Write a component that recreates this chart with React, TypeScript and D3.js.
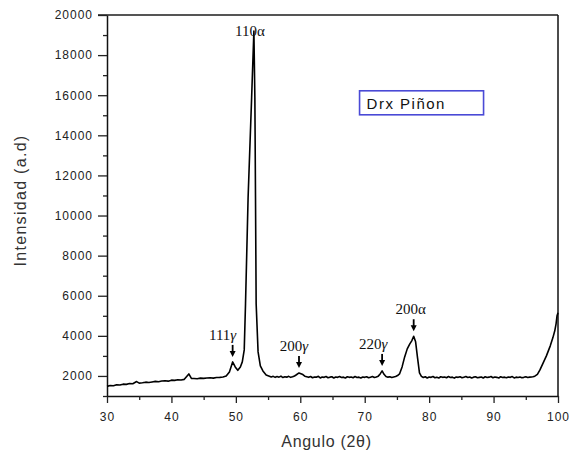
import React, { useEffect, useRef } from 'react';
import * as d3 from 'd3';

const angle = [
  30, 30.5, 31, 31.5, 32, 32.5, 33, 33.5, 34, 34.6, 35, 35.5, 36, 36.5, 37, 37.5, 38, 38.5, 39, 39.5,
  40, 40.5, 41, 41.5, 42, 42.7, 43.1, 43.5, 44, 44.5, 45, 45.5, 46, 46.5, 47, 47.5, 48, 48.5, 49, 49.5,
  49.9, 50.3, 50.7, 51.0, 51.3, 51.5, 51.9, 52.45, 52.8, 52.95, 53.05, 53.15, 53.45, 53.8, 54.2, 54.7,
  55.2, 55.5, 55.8, 56.1, 56.4, 56.7, 57.0, 57.3, 57.6, 57.9, 58.2, 58.5, 58.8, 59.1,
  59.4, 59.8, 60.1, 60.4, 60.7, 61.0,
  61.3, 61.6, 61.9, 62.2, 62.5, 62.8, 63.1, 63.4, 63.7, 64, 64.3, 64.6, 64.9, 65.2, 65.5, 65.8, 66.1, 66.4, 66.7,
  67, 67.3, 67.6, 67.9, 68.2, 68.5, 68.8, 69.1, 69.4, 69.7, 70, 70.3, 70.6, 70.9, 71.2, 71.5, 71.8, 72.1,
  72.4, 72.7, 73.0, 73.3, 73.6, 73.9, 74.2, 74.5, 74.8, 75.1,
  75.4, 75.8, 76.2, 76.6, 77.0, 77.3, 77.6, 77.9, 78.2, 78.5, 78.8,
  79.1, 79.4, 79.7, 80, 80.3, 80.6, 80.9, 81.2, 81.5, 81.8, 82.1, 82.4, 82.7, 83, 83.3, 83.6, 83.9, 84.2, 84.5, 84.8,
  85.1, 85.4, 85.7, 86, 86.3, 86.6, 86.9, 87.2, 87.5, 87.8, 88.1, 88.4, 88.7, 89, 89.3, 89.6, 89.9, 90.2, 90.5, 90.8,
  91.1, 91.4, 91.7, 92, 92.3, 92.6, 92.9, 93.2, 93.5, 93.8, 94.1, 94.4, 94.7, 95, 95.3, 95.6, 95.9,
  96.1, 96.4, 96.8, 97.2, 97.7, 98.2, 98.8, 99.2, 99.5, 99.7, 99.85, 100,
];
const intensity = [
  1480, 1520, 1510, 1560, 1550, 1590, 1580, 1620, 1610, 1720, 1640, 1660, 1690, 1670, 1700, 1730, 1710, 1750, 1760, 1740,
  1790, 1780, 1810, 1800, 1830, 2100, 1880, 1870, 1860, 1890, 1880, 1900, 1910, 1890, 1920, 1930, 1950, 2000, 2200, 2700,
  2450, 2280, 2450, 2700, 3300, 5600, 10900, 15900, 19200, 15900, 10900, 5600, 3200, 2500, 2250, 2050,
  1990, 1950, 1980, 1930, 1970, 1940, 1990, 1920, 1960, 1940, 1980, 1930, 1960, 2000,
  2060, 2150, 2110, 2070, 1990, 1960,
  1930, 1970, 1910, 1950, 1940, 1980, 1900, 1950, 1930, 1970, 1910, 1940, 1960, 1900, 1950, 1930, 1970, 1920, 1940,
  1900, 1960, 1930, 1950, 1910, 1970, 1920, 1940, 1900, 1950, 1930, 1960, 1910, 1940, 1970, 1920, 1950, 1990,
  2100, 2250, 2080, 1970, 1940, 1960, 1920, 1950, 1970, 2020,
  2100, 2450, 2950, 3350, 3600, 3750, 3980, 3700, 2900, 2150, 1980,
  1920, 1960, 1900, 1950, 1930, 1970, 1910, 1940, 1900, 1960, 1930, 1950, 1910, 1970, 1920, 1940, 1890, 1950, 1930, 1960,
  1910, 1940, 1970, 1920, 1950, 1900, 1940, 1960, 1910, 1930, 1950, 1900, 1960, 1920, 1940, 1970, 1910, 1950, 1930, 1900,
  1960, 1920, 1940, 1910, 1950, 1930, 1970, 1900, 1940, 1920, 1950, 1910, 1930, 1960, 1920, 1940, 1950,
  1960, 1990, 2080, 2300, 2650, 3000, 3500, 3900, 4250, 4600, 5000, 5150,
];

const xTicks = [30, 40, 50, 60, 70, 80, 90, 100];
const xMinorTicks = [35, 45, 55, 65, 75, 85, 95];
const yTicks = [2000, 4000, 6000, 8000, 10000, 12000, 14000, 16000, 18000, 20000];
const yMinorTicks = [1000, 3000, 5000, 7000, 9000, 11000, 13000, 15000, 17000, 19000];

// reflection labels (plane, phase) and the angle of the peak they point at
const peakPlanes = ['110', '111', '200', '220', '200'];
const peakPhases = ['α', 'γ', 'γ', 'γ', 'α'];
const peakAngles = [52.8, 49.5, 59.8, 72.7, 77.6];
const peakArrow = [false, true, true, true, true];

const legendText = 'Drx  Piñon';
const xTitle = 'Angulo (2θ)';
const yTitle = 'Intensidad (a.d)';

export default function App() {
  const ref = useRef<SVGSVGElement | null>(null);

  useEffect(() => {
    const svg = d3.select(ref.current);
    svg.selectAll('*').remove();

    const margin = { top: 15, right: 12, bottom: 58, left: 107 };
    const W = 570;
    const H = 454;
    const width = W - margin.left - margin.right;
    const height = H - margin.top - margin.bottom;

    const x = d3.scaleLinear().domain([30, 100]).range([0, width]);
    const y = d3.scaleLinear().domain([1000, 20000]).range([height, 0]);

    const g = svg.append('g').attr('transform', `translate(${margin.left},${margin.top})`);

    // frame
    g.append('line').attr('x1', -9).attr('x2', width).attr('y1', 0).attr('y2', 0)
      .attr('stroke', '#555').attr('stroke-width', 2);
    g.append('line').attr('x1', width).attr('x2', width).attr('y1', 0).attr('y2', height)
      .attr('stroke', '#111').attr('stroke-width', 1.5);

    const tickFont = (sel: any) => sel.selectAll('text')
      .attr('font-family', 'Liberation Sans, Arial, sans-serif')
      .attr('font-size', 12)
      .attr('letter-spacing', 1)
      .attr('fill', '#222');

    // x axis
    const gx = g.append('g').attr('transform', `translate(0,${height})`)
      .call(d3.axisBottom(x).tickValues(xTicks).tickSize(7).tickPadding(9).tickSizeOuter(0).tickFormat(d3.format('d')));
    tickFont(gx);
    g.append('g').attr('transform', `translate(0,${height})`)
      .call(d3.axisBottom(x).tickValues(xMinorTicks).tickSize(4).tickFormat(() => ''))
      .select('.domain').remove();

    // y axis
    const gy = g.append('g')
      .call(d3.axisLeft(y).tickValues(yTicks).tickSize(9).tickPadding(5).tickSizeOuter(0).tickFormat(d3.format('d')));
    tickFont(gy);
    g.append('g')
      .call(d3.axisLeft(y).tickValues(yMinorTicks).tickSize(4).tickFormat(() => ''))
      .select('.domain').remove();

    g.selectAll('.domain').attr('stroke', '#111').attr('stroke-width', 1.5);
    g.selectAll('.tick line').attr('stroke', '#222').attr('stroke-width', 1.3);

    // scan
    const pts = angle.map((a, i) => [a, intensity[i]] as [number, number]);
    const line = d3.line<[number, number]>()
      .x((d) => x(d[0]))
      .y((d) => y(d[1]));
    g.append('path')
      .datum(pts)
      .attr('fill', 'none')
      .attr('stroke', '#000')
      .attr('stroke-width', 1.6)
      .attr('stroke-linejoin', 'round')
      .attr('d', line);

    // peak labels + arrows
    const labelDx = [-4, -10, -5, -9, -3];
    peakPlanes.forEach((plane, i) => {
      const a = peakAngles[i];
      let best = 0;
      angle.forEach((v, j) => { if (Math.abs(v - a) < Math.abs(angle[best] - a)) best = j; });
      const px = x(a);
      const py = y(intensity[best]);
      let base;
      if (peakArrow[i]) {
        const tip = py - 5;
        const tail = tip - 12;
        g.append('line').attr('x1', px).attr('x2', px).attr('y1', tail).attr('y2', tip - 4)
          .attr('stroke', '#000').attr('stroke-width', 1.8);
        g.append('path')
          .attr('d', `M${px - 3},${tip - 6}L${px + 3},${tip - 6}L${px},${tip}Z`)
          .attr('fill', '#000');
        base = tail - 5;
      } else {
        base = 21;
      }
      const t = g.append('text')
        .attr('x', px + labelDx[i])
        .attr('y', base)
        .attr('text-anchor', 'middle')
        .attr('font-family', 'Liberation Serif, Times New Roman, serif')
        .attr('font-size', 15)
        .attr('fill', '#111');
      t.append('tspan').text(plane);
      t.append('tspan')
        .attr('font-style', peakPhases[i] === 'γ' ? 'italic' : 'normal')
        .text(peakPhases[i]);
    });

    // legend box
    const lg = g.append('g').attr('transform', `translate(${x(69.2)},${y(16220)})`);
    lg.append('rect').attr('width', 124).attr('height', 24)
      .attr('fill', '#fff').attr('stroke', '#4a4ad6').attr('stroke-width', 1.6);
    lg.append('text').attr('x', 7).attr('y', 18)
      .attr('font-family', 'Liberation Sans, Arial, sans-serif')
      .attr('font-size', 15).attr('letter-spacing', 1.5).attr('fill', '#111')
      .text(legendText);

    // axis titles
    svg.append('text')
      .attr('x', margin.left + width / 2 - 6)
      .attr('y', 447)
      .attr('text-anchor', 'middle')
      .attr('font-family', 'Liberation Sans, Arial, sans-serif')
      .attr('font-size', 16).attr('letter-spacing', 0.7).attr('fill', '#333')
      .text(xTitle);
    svg.append('text')
      .attr('transform', `translate(26,${margin.top + height / 2 - 5}) rotate(-90)`)
      .attr('text-anchor', 'middle')
      .attr('font-family', 'Liberation Sans, Arial, sans-serif')
      .attr('font-size', 16).attr('letter-spacing', 1.3).attr('fill', '#333')
      .text(yTitle);
  }, []);

  return (
    <svg
      ref={ref}
      width={570}
      height={454}
      style={{ position: 'absolute', left: 0, top: 0, background: '#fff' }}
    />
  );
}
